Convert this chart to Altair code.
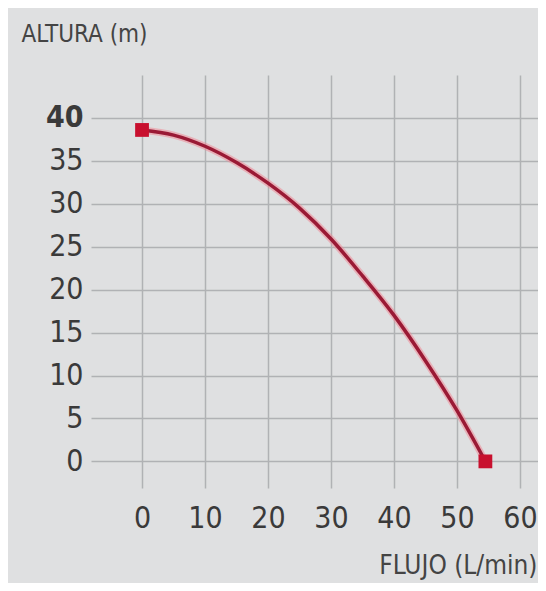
import altair as alt
import pandas as pd

# Data
flujo = [0, 5, 10, 15, 20, 25, 30, 35, 40, 45, 50, 54.5]
altura = [38.6, 38.0, 36.7, 34.8, 32.4, 29.5, 25.9, 21.6, 17.0, 11.7, 5.9, 0.0]
x_ticks = [0, 10, 20, 30, 40, 50, 60]
y_ticks = [0, 5, 10, 15, 20, 25, 30, 35, 40]

curve = pd.DataFrame({"flujo": flujo, "altura": altura})
ends = curve.iloc[[0, len(curve) - 1]]

FONT = "Liberation Sans Narrow, DejaVu Sans Condensed, Roboto, sans-serif"

x_enc = alt.X(
    "flujo:Q",
    scale=alt.Scale(domain=[-8.1, 62.85], nice=False, zero=False),
    axis=alt.Axis(
        values=x_ticks,
        grid=True,
        gridColor="#b0b2b4",
        gridWidth=1.5,
        domain=False,
        ticks=False,
        labelFont=FONT,
        labelFontSize=30,
        labelColor="#3a3a3a",
        labelPadding=15,
        title="FLUJO (L/min)",
        titleFont=FONT,
        titleFontSize=26,
        titleFontWeight="normal",
        titleColor="#444444",
        titleAnchor="end",
        titleAlign="right",
        titleX=446,
        titleY=77,
        titleBaseline="middle",
    ),
)
y_enc = alt.Y(
    "altura:Q",
    scale=alt.Scale(domain=[-3.1, 45], nice=False, zero=False),
    axis=alt.Axis(
        values=y_ticks,
        grid=True,
        gridColor="#b0b2b4",
        gridWidth=1.5,
        domain=False,
        ticks=False,
        labelFont=FONT,
        labelFontSize=30,
        labelColor="#3a3a3a",
        labelFontWeight={"condition": {"test": "datum.value == 40", "value": "bold"}, "value": "normal"},
        labelPadding=8,
        title="ALTURA (m)",
        titleFont=FONT,
        titleFontSize=24,
        titleFontWeight="normal",
        titleColor="#444444",
        titleAngle=0,
        titleAlign="left",
        titleX=-70,
        titleY=-41,
        titleBaseline="middle",
    ),
)

glow = alt.Chart(curve).mark_line(
    interpolate="monotone", color="#ee8a98", strokeWidth=7, opacity=0.55
).encode(x=x_enc, y=y_enc)

line = alt.Chart(curve).mark_line(
    interpolate="monotone", color="#9a1a35", strokeWidth=3.5
).encode(x="flujo:Q", y="altura:Q")

pts = alt.Chart(ends).mark_square(
    size=190, color="#c8102e", opacity=1
).encode(x="flujo:Q", y="altura:Q")

chart = (
    alt.layer(glow, line, pts)
    .properties(
        width=447,
        height=413,
        autosize=alt.AutoSizeParams(type="none"),
        padding={"left": 83, "top": 67, "right": 0, "bottom": 95},
    )
    .configure(background="#dfe0e1")
    .configure_view(strokeWidth=0)
)

chart.save("out.html", embed_options={"renderer": "svg", "actions": False})
